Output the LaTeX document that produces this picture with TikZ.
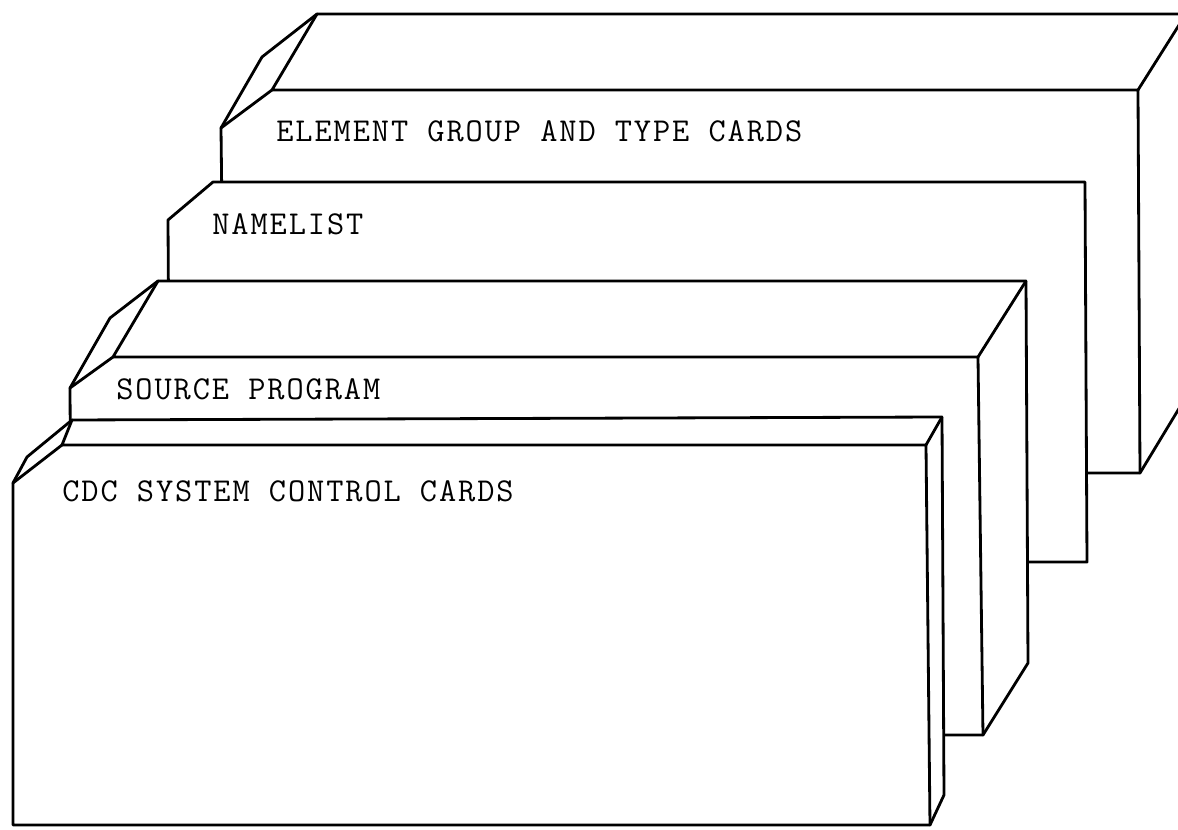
\documentclass[tikz,border=0pt]{standalone}
\usepackage{fontspec}
\newfontfamily\cardfont{Latin Modern Mono}[LetterSpace=5.8]

\begin{document}
\begin{tikzpicture}[
    x=0.02cm,
    y=-0.02cm,
    deckface/.style={
        draw,
        fill=white,
        line width=1.6pt,
        line join=round
    },
    deckedge/.style={line width=1.6pt, line cap=round, line join=round},
    deckname/.style={
        anchor=base west,
        inner sep=0pt,
        font=\cardfont\fontsize{19}{22}\selectfont
    }
]
\useasboundingbox (0,0) rectangle (1178,830);
\clip (0,0) rectangle (1178,830);

% back deck
\draw[deckface] (317,14) -- (1186,14) -- (1186,397) -- (1140,473) -- (225,473) -- (221,128) -- (262,57) -- cycle;
\draw[deckedge] (317,14) -- (272,90) -- (1138,90) -- (1140,473);
\draw[deckedge] (272,90) -- (221,128);
\draw[deckedge] (1186,14) -- (1138,90);

% namelist
\draw[deckface] (213,182) -- (1085,182) -- (1087,562) -- (170,562) -- (168,220) -- cycle;

% source deck
\draw[deckface] (158,281) -- (1026,281) -- (1028,663) -- (983,735) -- (72,735) -- (70,388) -- (110,318) -- cycle;
\draw[deckedge] (158,281) -- (113,357) -- (978,357) -- (983,735);
\draw[deckedge] (113,357) -- (70,388);
\draw[deckedge] (1026,281) -- (978,357);

% front deck
\draw[deckface] (72,420) -- (942,417) -- (944,795) -- (930,825) -- (13,825) -- (13,483) -- (27,457) -- cycle;
\draw[deckedge] (72,420) -- (62,445) -- (926,445) -- (930,825);
\draw[deckedge] (62,445) -- (13,483);
\draw[deckedge] (942,417) -- (926,445);

\node[deckname] (element) at (276,142) {ELEMENT GROUP AND TYPE CARDS};
\node[deckname] (namelist) at (212,235) {NAMELIST};
\node[deckname] (source) at (116,400) {SOURCE PROGRAM};
\node[deckname] (cdc) at (62,502) {CDC SYSTEM CONTROL CARDS};

\end{tikzpicture}
\end{document}
